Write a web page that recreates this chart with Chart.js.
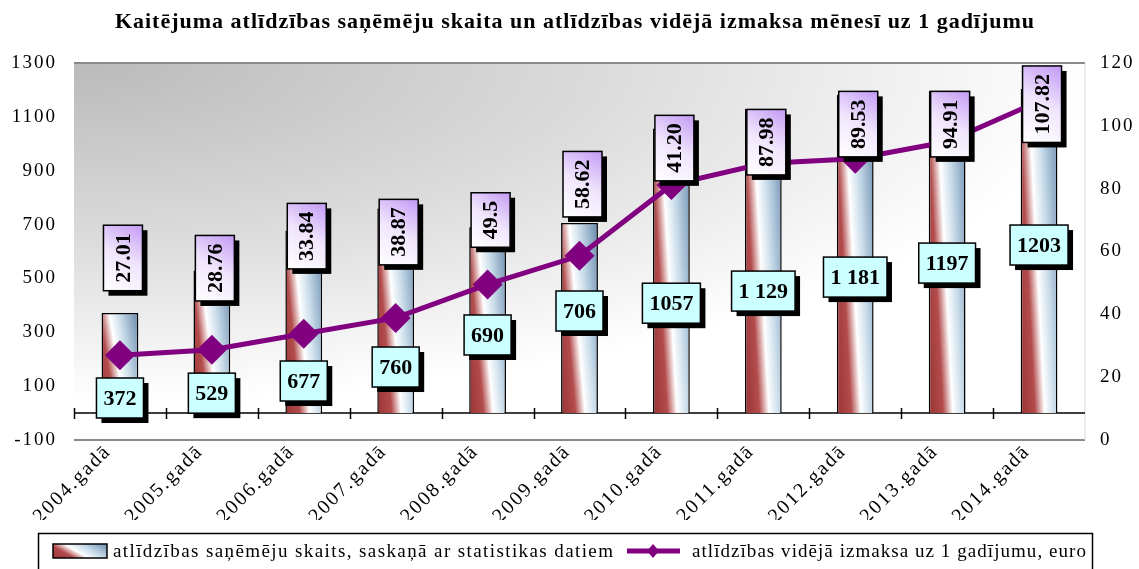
<!DOCTYPE html>
<html>
<head>
<meta charset="utf-8">
<script src="https://cdn.jsdelivr.net/npm/chart.js@4.4.1/dist/chart.umd.min.js"></script>
<style>
  body { margin: 0; background: #fff; }
  canvas { display: block; }
</style>
</head>
<body>
<canvas id="chart" width="1139" height="569"></canvas>
<script>
// Data
const years = ['2004.gadā', '2005.gadā', '2006.gadā', '2007.gadā', '2008.gadā', '2009.gadā',
  '2010.gadā', '2011.gadā', '2012.gadā', '2013.gadā', '2014.gadā'];
const recipients = [372, 529, 677, 760, 690, 706, 1057, 1129, 1181, 1197, 1203];
const recipientText = ['372', '529', '677', '760', '690', '706', '1057', '1 129', '1 181', '1197', '1203'];
const avgPayment = [27.01, 28.76, 33.84, 38.87, 49.5, 58.62, 81.2, 87.98, 89.53, 94.91, 107.82];
const avgPaymentText = ['27.01', '28.76', '33.84', '38.87', '49.5', '58.62', '41.20', '87.98', '89.53', '94.91', '107.82'];
const leftTicks = [-100, 100, 300, 500, 700, 900, 1100, 1300];
const rightTicks = [0, 20, 40, 60, 80, 100, 120];

const titleText = 'Kaitējuma atlīdzības saņēmēju skaita un atlīdzības vidējā izmaksa mēnesī uz 1 gadījumu';
const barName = 'atlīdzības saņēmēju skaits, saskaņā ar statistikas datiem';
const lineName = 'atlīdzības vidējā izmaksa uz 1 gadījumu, euro';

// the value boxes were dragged by hand in the original, centre heights in left axis units
const recipientBoxAt = [56, 74, 119, 171, 290, 379, 408, 453, 505, 557, 624];
const paymentBoxAt = [576, 538, 657, 672, 717, 850, 984, 1006, 1073, 1073, 1147];

const serif = '"Liberation Serif", "Times New Roman", serif';

// red / white / blue slanted fill used for the bars
function stripeGradient(ctx, left, top, w, h) {
  const dx = 0.45 * w, dy = h;
  const len = Math.hypot(dx, dy);
  const nx = dy / len, ny = -dx / len;
  const cx = left + 0.4 * w, cy = top + h / 2;
  const L = (w * Math.abs(nx) + h * Math.abs(ny)) / 2 + 2;
  const g = ctx.createLinearGradient(cx - nx * L, cy - ny * L, cx + nx * L, cy + ny * L);
  g.addColorStop(0, '#8e2a2a');
  g.addColorStop(0.35, '#b34c4c');
  g.addColorStop(0.52, '#ffffff');
  g.addColorStop(0.7, '#c9dcea');
  g.addColorStop(1, '#6f8fb0');
  return g;
}

function barFill(c) {
  const chart = c.chart;
  if (!chart.chartArea || c.type !== 'data') return '#b04848';
  const xs = chart.scales.x, ys = chart.scales.y;
  const w = xs.width / years.length * 0.4;
  const x = xs.getPixelForValue(c.dataIndex);
  const top = ys.getPixelForValue(c.raw);
  const bottom = ys.getPixelForValue(0);
  return stripeGradient(chart.ctx, x - w / 2, top, w, bottom - top);
}

function box(ctx, x, y, w, h, fill) {
  ctx.fillStyle = '#000';
  ctx.fillRect(x + 5, y + 5, w, h);
  ctx.fillStyle = fill;
  ctx.fillRect(x, y, w, h);
  ctx.lineWidth = 1.5;
  ctx.strokeStyle = '#000';
  ctx.strokeRect(x, y, w, h);
}

const decor = {
  id: 'decor',
  beforeDraw(chart) {
    // the original's axis text is set slightly wide
    chart.ctx.letterSpacing = '2px';
  },
  beforeDatasetsDraw(chart) {
    const { ctx, chartArea: a } = chart;
    ctx.save();
    // grey shading that fades out from the top left corner
    ctx.save();
    ctx.translate(a.left, a.top);
    ctx.scale(3, 1);
    const bg = ctx.createRadialGradient(0, 0, 0, 0, 0, 340);
    bg.addColorStop(0, '#bababa');
    bg.addColorStop(0.5, '#dadada');
    bg.addColorStop(1, '#ffffff');
    ctx.fillStyle = bg;
    ctx.fillRect(0, 0, (a.right - a.left) / 3, a.bottom - a.top);
    ctx.restore();
    ctx.strokeStyle = '#8a8a8a';
    ctx.lineWidth = 2;
    ctx.beginPath();
    ctx.moveTo(a.left, a.top); ctx.lineTo(a.right, a.top);
    ctx.moveTo(a.left, a.bottom); ctx.lineTo(a.right, a.bottom);
    ctx.stroke();
    ctx.strokeStyle = '#d8d8d8';
    ctx.lineWidth = 1;
    ctx.beginPath();
    ctx.moveTo(a.right, a.top); ctx.lineTo(a.right, a.bottom);
    ctx.stroke();
    // zero line with category ticks
    const y0 = chart.scales.y.getPixelForValue(0);
    const step = (a.right - a.left) / years.length;
    ctx.strokeStyle = '#000';
    ctx.lineWidth = 1.5;
    ctx.beginPath();
    ctx.moveTo(a.left, y0); ctx.lineTo(a.right, y0);
    for (let i = 0; i < years.length; i++) {
      const x = Math.round(a.left + i * step) + 0.5;
      ctx.moveTo(x, y0 - 5); ctx.lineTo(x, y0 + 6);
    }
    ctx.stroke();
    ctx.restore();
  },
  afterDatasetsDraw(chart) {
    const { ctx } = chart;
    const xs = chart.scales.x, ys = chart.scales.y;
    ctx.save();
    ctx.letterSpacing = '0px';
    ctx.font = 'bold 22px ' + serif;
    ctx.textBaseline = 'middle';
    ctx.textAlign = 'center';
    years.forEach((_, i) => {
      const x = xs.getPixelForValue(i);
      // purple box, vertical text
      const t = avgPaymentText[i];
      const th = ctx.measureText(t).width + 16;
      const tw = 39;
      const py = ys.getPixelForValue(paymentBoxAt[i]);
      const bx = x + 3 - tw / 2, by = py - th / 2;
      const g = ctx.createLinearGradient(bx + tw, by, bx, by + th);
      g.addColorStop(0, '#c399f5');
      g.addColorStop(0.5, '#f0e6fc');
      g.addColorStop(1, '#ffffff');
      box(ctx, bx, by, tw, th, g);
      ctx.save();
      ctx.translate(x + 3, py);
      ctx.rotate(-Math.PI / 2);
      ctx.fillStyle = '#000';
      ctx.fillText(t, 0, 1);
      ctx.restore();

      // cyan box
      const s = recipientText[i];
      const w = ctx.measureText(s).width + 14;
      const h = 40;
      const cy = ys.getPixelForValue(recipientBoxAt[i]);
      box(ctx, x - w / 2, cy - h / 2, w, h, '#ccffff');
      ctx.fillStyle = '#000';
      ctx.fillText(s, x, cy + 1);
    });
    ctx.restore();
  },
  afterDraw(chart) {
    const { ctx } = chart;
    ctx.save();
    ctx.fillStyle = '#000';
    ctx.textBaseline = 'middle';
    ctx.textAlign = 'center';
    ctx.letterSpacing = '1px';
    ctx.font = 'bold 22px ' + serif;
    ctx.fillText(titleText, 575, 22);

    // legend
    ctx.lineWidth = 1.5;
    ctx.strokeStyle = '#000';
    ctx.strokeRect(38.5, 533.5, 1054, 50);
    const ly = 551;
    ctx.fillStyle = stripeGradient(ctx, 53, ly - 7, 54, 14);
    ctx.fillRect(53, ly - 7, 54, 14);
    ctx.strokeRect(53, ly - 7, 54, 14);
    ctx.textAlign = 'left';
    ctx.font = '19px ' + serif;
    ctx.letterSpacing = '1.4px';
    ctx.fillStyle = '#000';
    ctx.fillText(barName, 113, ly + 1);
    ctx.strokeStyle = '#800080';
    ctx.lineWidth = 5;
    ctx.beginPath();
    ctx.moveTo(627, ly); ctx.lineTo(680, ly);
    ctx.stroke();
    ctx.fillStyle = '#800080';
    ctx.beginPath();
    ctx.moveTo(653, ly - 7); ctx.lineTo(659, ly); ctx.lineTo(653, ly + 7); ctx.lineTo(647, ly);
    ctx.closePath();
    ctx.fill();
    ctx.letterSpacing = '1.05px';
    ctx.fillStyle = '#000';
    ctx.fillText(lineName, 692, ly + 1);
    ctx.restore();
    ctx.letterSpacing = '0px';
  }
};

const tickText = (v) => String(v);

const ctx = document.getElementById('chart').getContext('2d');
const chart = new Chart(ctx, {
  type: 'bar',
  data: {
    labels: years,
    datasets: [{
      type: 'line',
      label: lineName,
      data: avgPayment,
      yAxisID: 'y1',
      borderColor: '#800080',
      borderWidth: 5,
      pointStyle: 'rectRot',
      pointRadius: 15,
      pointHoverRadius: 15,
      pointBackgroundColor: '#800080',
      pointBorderWidth: 0,
      tension: 0,
      order: 0,
    }, {
      label: barName,
      data: recipients,
      yAxisID: 'y',
      backgroundColor: barFill,
      borderColor: '#000',
      borderWidth: 1.5,
      barPercentage: 0.4,
      categoryPercentage: 1,
      order: 1,
    }],
  },
  options: {
    responsive: false,
    animation: false,
    layout: { padding: { top: 63, bottom: 49, left: 0, right: 0 } },
    plugins: {
      legend: { display: false },
      title: { display: false },
      tooltip: { enabled: false },
    },
    scales: {
      x: {
        grid: { display: false, drawTicks: false },
        border: { display: false },
        afterFit: (s) => { s.height = 80; },
        ticks: {
          maxRotation: 45,
          minRotation: 45,
          padding: 0,
          labelOffset: -12,
          color: '#000',
          font: { family: serif, size: 20 },
        },
      },
      y: {
        position: 'left',
        min: -100,
        max: 1300,
        afterBuildTicks: (s) => { s.ticks = leftTicks.map(v => ({ value: v })); },
        afterFit: (s) => { s.width = 74; },
        grid: { display: false, drawTicks: false },
        border: { display: false },
        ticks: { padding: 17, color: '#000', font: { family: serif, size: 19 }, callback: tickText },
      },
      y1: {
        position: 'right',
        min: 0,
        max: 120,
        afterBuildTicks: (s) => { s.ticks = rightTicks.map(v => ({ value: v })); },
        afterFit: (s) => { s.width = 54; },
        grid: { display: false, drawTicks: false },
        border: { display: false },
        ticks: { padding: 15, color: '#000', font: { family: serif, size: 19 }, callback: tickText },
      },
    },
  },
  plugins: [decor],
});
</script>
</body>
</html>
